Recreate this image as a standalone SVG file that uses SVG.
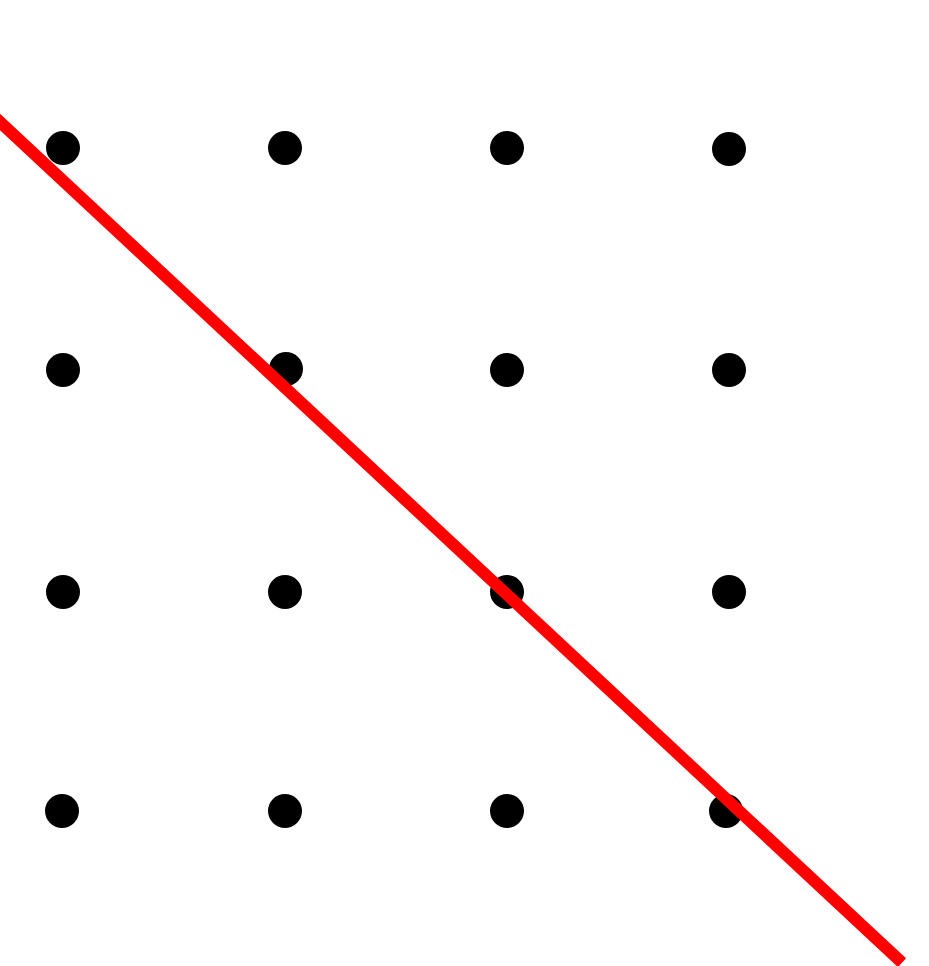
<svg xmlns="http://www.w3.org/2000/svg" width="929" height="966" viewBox="0 0 929 966">
<style>
.dot{fill:#000}
.cut{stroke:#ff0000;stroke-width:12;stroke-linecap:butt;fill:none}
</style>
<rect width="929" height="966" fill="#fff"/>
<g id="dots">
<circle id="d11" class="dot" cx="63" cy="148" r="17"/>
<circle id="d12" class="dot" cx="285" cy="148" r="17"/>
<circle id="d13" class="dot" cx="507" cy="148" r="17"/>
<circle id="d14" class="dot" cx="729" cy="149" r="17"/>
<circle id="d21" class="dot" cx="63" cy="370" r="17"/>
<circle id="d22" class="dot" cx="286" cy="369" r="17"/>
<circle id="d23" class="dot" cx="507" cy="370" r="17"/>
<circle id="d24" class="dot" cx="729" cy="370" r="17"/>
<circle id="d31" class="dot" cx="63" cy="592" r="17"/>
<circle id="d32" class="dot" cx="285" cy="592" r="17"/>
<circle id="d33" class="dot" cx="507" cy="592" r="17"/>
<circle id="d34" class="dot" cx="729" cy="592" r="17"/>
<circle id="d41" class="dot" cx="62" cy="811" r="17"/>
<circle id="d42" class="dot" cx="285" cy="811" r="17"/>
<circle id="d43" class="dot" cx="507" cy="811" r="17"/>
<circle id="d44" class="dot" cx="726" cy="811" r="17"/>
</g>
<g id="connectors">
<line class="cut" x1="-10" y1="112.7" x2="902" y2="962.7"/>
</g>
</svg>
